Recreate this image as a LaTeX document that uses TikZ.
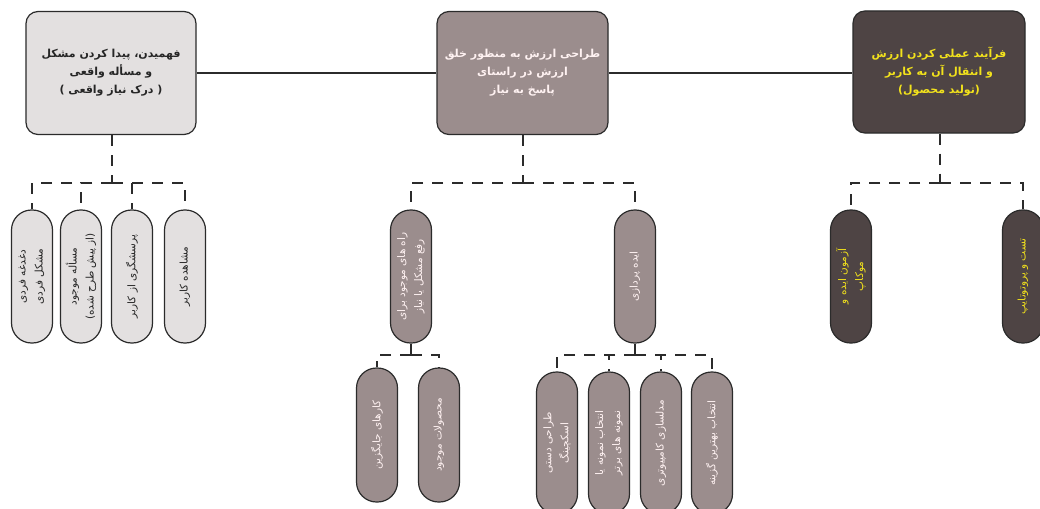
\documentclass[tikz,border=0pt]{standalone}
\usepackage{fontspec}
\newfontfamily\arabicfont[Script=Arabic]{DejaVu Sans}
\TeXXeTstate=1
\newcommand{\fa}[1]{\beginR #1\endR}
\definecolor{lightbox}{HTML}{E3E0E0}
\definecolor{midbox}{HTML}{9B8D8D}
\definecolor{darkbox}{HTML}{4E4444}
\definecolor{ytext}{HTML}{F2E21C}
\definecolor{linec}{HTML}{2B2B2B}
\tikzset{
  topbox/.style={draw=linec, line width=1.2pt, rounded corners=12pt, minimum width=170pt, minimum height=123pt, align=center, font=\arabicfont\bfseries\fontsize{11}{18}\selectfont},
  childbox/.style={draw=linec, line width=1.2pt, rounded corners=20pt, rotate=90, minimum width=133pt, minimum height=41pt, inner sep=2pt, align=center, font=\arabicfont\fontsize{10.5}{17}\selectfont},
  lightstyle/.style={fill=lightbox, text=black!85},
  midstyle/.style={fill=midbox, text=white!95!red},
  darkstyle/.style={fill=darkbox, text=ytext},
  solidline/.style={draw=linec, line width=1.5pt},
  dashline/.style={draw=linec, line width=1.6pt, dash pattern=on 11pt off 9pt},
}
\begin{document}
\begin{tikzpicture}[x=1pt,y=-1pt]
\useasboundingbox (0,0) rectangle (1040,508);
\clip (0,0) rectangle (1040,508);
\fill[white] (0,0) rectangle (1040,508);
% top row
\node[topbox, lightstyle] (t1) at (111,73) {\fa{فهمیدن، پیدا کردن مشکل}\\\fa{و مسأله واقعی}\\\fa{( درک نیاز واقعی )}};
\node[topbox, midstyle, minimum width=171pt] (t2) at (522.5,73) {\fa{طراحی ارزش به منظور خلق}\\\fa{ارزش در راستای}\\\fa{پاسخ به نیاز}};
\node[topbox, darkstyle, minimum width=172pt, minimum height=122pt] (t3) at (939,72) {\fa{فرآیند عملی کردن ارزش}\\\fa{و انتقال آن به کاربر}\\\fa{(تولید محصول)}};
\draw[solidline] (t1.east |- 0,73) -- (t2.west |- 0,73);
\draw[solidline] (t2.east |- 0,73) -- (t3.west |- 0,73);
% branch 1
\node[childbox, lightstyle] (a1) at (32,276.5) {\fa{دغدغه فردی}\\\fa{مشکل فردی}};
\node[childbox, lightstyle] (a2) at (81,276.5) {\fa{مسأله موجود}\\\fa{(از پیش طرح شده)}};
\node[childbox, lightstyle] (a3) at (132,276.5) {\fa{پرسشگری از کاربر}};
\node[childbox, lightstyle] (a4) at (185,276.5) {\fa{مشاهده کاربر}};
\coordinate (j1) at (112,183);
\draw[dashline] (t1.south -| j1) -- (j1);
\foreach \c in {a1,a2,a3,a4} \draw[dashline] (j1) -| (\c.east);
% branch 2
\node[childbox, midstyle] (b1) at (411,276.5) {\fa{راه های موجود برای}\\\fa{رفع مشکل یا نیاز}};
\node[childbox, midstyle] (b2) at (635,276.5) {\fa{ایده پردازی}};
\coordinate (j2) at (523,183);
\draw[dashline] (t2.south -| j2) -- (j2);
\foreach \c in {b1,b2} \draw[dashline] (j2) -| (\c.east);
% branch 3
\node[childbox, darkstyle] (c1) at (851,276.5) {\fa{آزمون ایده و}\\\fa{موکاپ}};
\node[childbox, darkstyle] (c2) at (1023,276.5) {\fa{تست و پروتوتایپ}};
\coordinate (j3) at (940,183);
\draw[dashline] (t3.south -| j3) -- (j3);
\foreach \c in {c1,c2} \draw[dashline] (j3) -| (\c.east);
% grandchildren of b1
\node[childbox, midstyle, minimum width=134pt] (d1) at (377,435) {\fa{کارهای جایگزین}};
\node[childbox, midstyle, minimum width=134pt] (d2) at (439,435) {\fa{محصولات موجود}};
\coordinate (j4) at (411,355);
\draw[solidline] (b1.west) -- (j4);
\draw[solidline] (403,355) -- (419,355);
\foreach \c in {d1,d2} \draw[dashline] (j4) -| (\c.east);
% grandchildren of b2
\node[childbox, midstyle, minimum width=142pt] (e1) at (557,443) {\fa{طراحی دستی}\\\fa{اسکچینگ}};
\node[childbox, midstyle, minimum width=142pt] (e2) at (609,443) {\fa{انتخاب نمونه یا}\\\fa{نمونه های برتر}};
\node[childbox, midstyle, minimum width=142pt] (e3) at (661,443) {\fa{مدلسازی کامپیوتری}};
\node[childbox, midstyle, minimum width=142pt] (e4) at (712,443) {\fa{انتخاب بهترین گزینه}};
\coordinate (j5) at (635,355);
\draw[solidline] (b2.west) -- (j5);
\foreach \c in {e1,e2,e3,e4} \draw[dashline] (j5) -| (\c.east);
\end{tikzpicture}
\end{document}
